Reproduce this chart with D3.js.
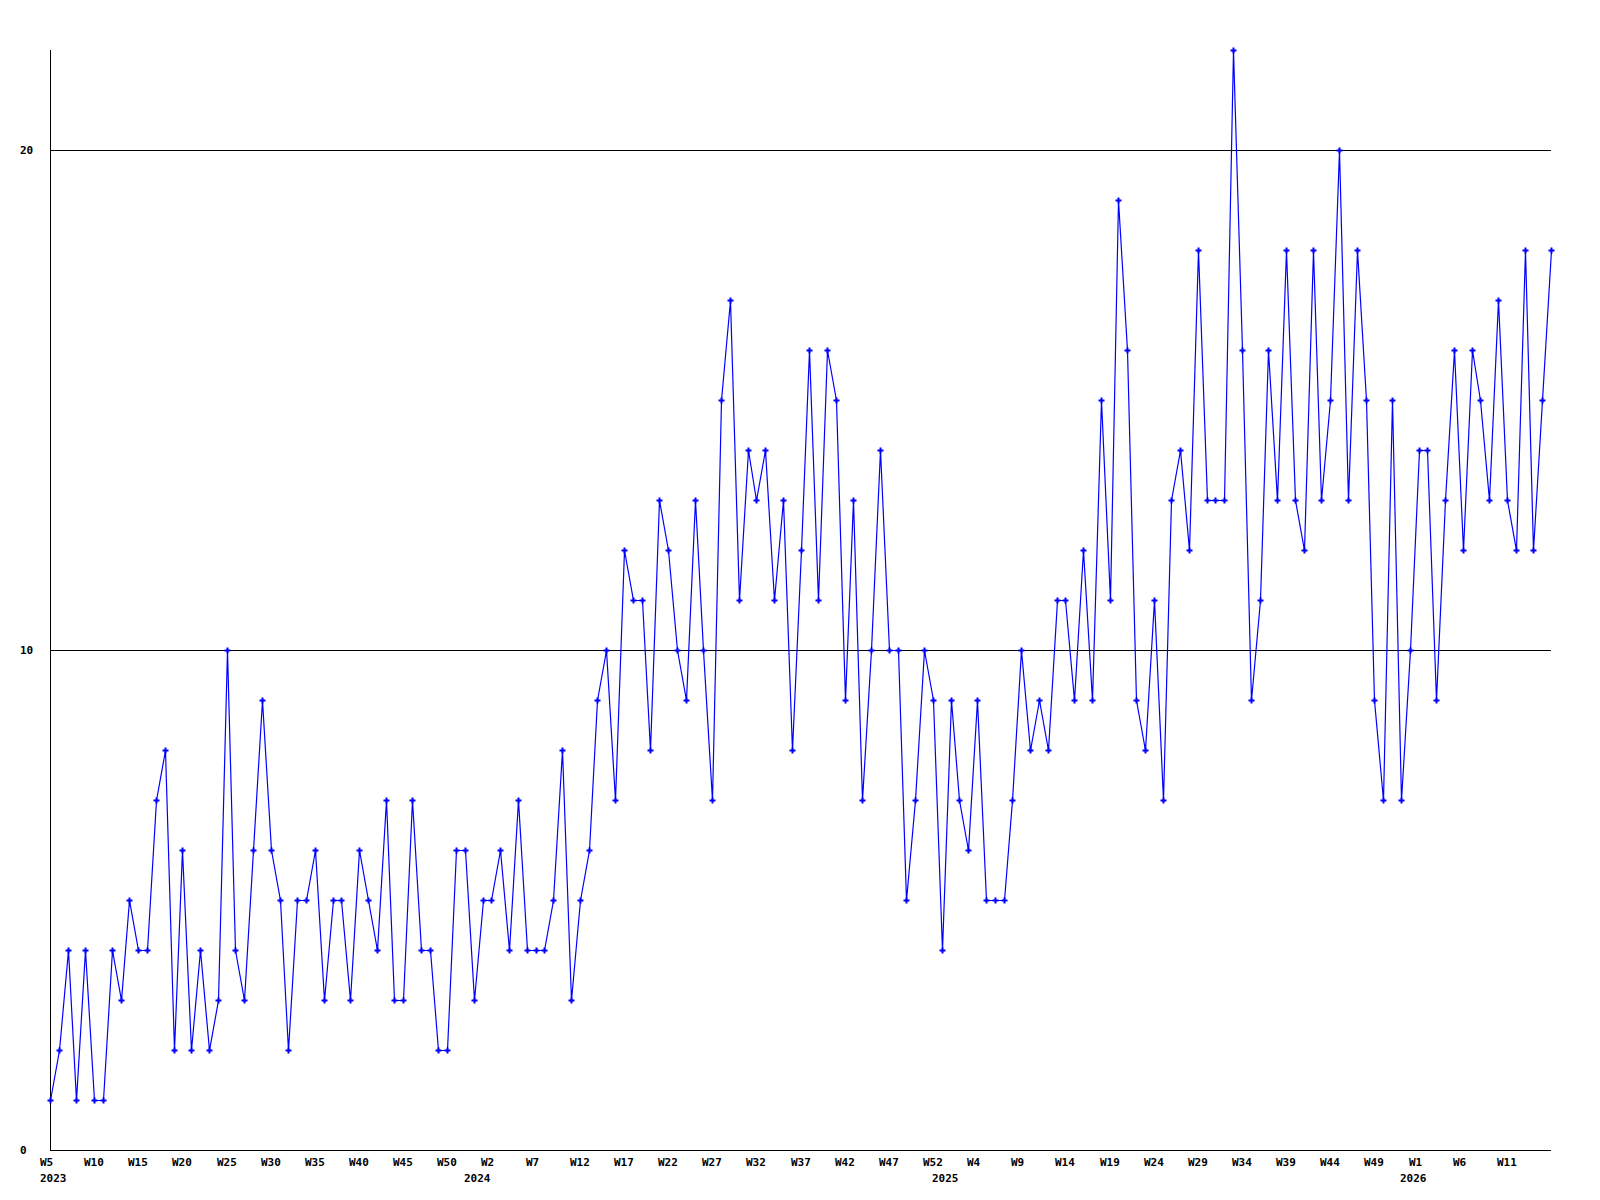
<!DOCTYPE html>
<html>
<head>
<meta charset="utf-8">
<script src="https://cdn.jsdelivr.net/npm/d3@7"></script>
<style>
  html, body { margin: 0; padding: 0; background: #ffffff; }
  svg { display: block; }
  text { font-family: "DejaVu Sans Mono", "Liberation Mono", monospace; font-weight: bold; font-size: 11px; fill: #000; }
</style>
</head>
<body>
<svg id="chart" width="1600" height="1200"></svg>
<script>
// ---- data ----
// Weekly periods: [year, first week, last week]
const yearRanges = [
  [2023, 5, 52],
  [2024, 0, 52],
  [2025, 0, 52],
  [2026, 0, 16]
];

const values = [
  1, 2, 4, 1, 4, 1, 1, 4, 3, 5, 4, 4, 7, 8, 2, 6, 2, 4, 2, 3,
  10, 4, 3, 6, 9, 6, 5, 2, 5, 5, 6, 3, 5, 5, 3, 6, 5, 4, 7, 3,
  3, 7, 4, 4, 2, 2, 6, 6, 3, 5, 5, 6, 4, 7, 4, 4, 4, 5, 8, 3,
  5, 6, 9, 10, 7, 12, 11, 11, 8, 13, 12, 10, 9, 13, 10, 7, 15, 17, 11, 14,
  13, 14, 11, 13, 8, 12, 16, 11, 16, 15, 9, 13, 7, 10, 14, 10, 10, 5, 7, 10,
  9, 4, 9, 7, 6, 9, 5, 5, 5, 7, 10, 8, 9, 8, 11, 11, 9, 12, 9, 15,
  11, 19, 16, 9, 8, 11, 7, 13, 14, 12, 18, 13, 13, 13, 22, 16, 9, 11, 16, 13,
  18, 13, 12, 18, 13, 15, 20, 13, 18, 15, 9, 7, 15, 7, 10, 14, 14, 9, 13, 16,
  12, 16, 15, 13, 17, 13, 12, 18, 12, 15, 18
];

const yTickValues = [0, 10, 20];
const labelEvery = 5;

// categories (one per weekly point)
const categories = [];
yearRanges.forEach(([yr, a, b]) => {
  for (let w = a; w <= b; w++) categories.push({ year: yr, week: w });
});

// ---- drawing ----
const svg = d3.select("#chart");
const W = 1600, H = 1200;
svg.append("rect").attr("width", W).attr("height", H).attr("fill", "#fff");

const x = d3.scaleLinear().domain([0, categories.length - 1]).range([50, 1551]);
const y = d3.scaleLinear().domain([0, 22]).range([1150, 50]);

const px = v => Math.round(v) + 0.5;

// gridlines
yTickValues.filter(v => v > 0).forEach(v => {
  svg.append("line")
    .attr("x1", 50).attr("x2", 1551)
    .attr("y1", px(y(v))).attr("y2", px(y(v)))
    .attr("stroke", "#000").attr("stroke-width", 1)
    .attr("shape-rendering", "crispEdges");
});

// axes lines
svg.append("line")
  .attr("x1", px(x(0))).attr("x2", px(x(0)))
  .attr("y1", y(22)).attr("y2", y(0) + 1)
  .attr("stroke", "#000").attr("shape-rendering", "crispEdges");
svg.append("line")
  .attr("x1", x(0)).attr("x2", 1551)
  .attr("y1", px(y(0))).attr("y2", px(y(0)))
  .attr("stroke", "#000").attr("shape-rendering", "crispEdges");

// y tick labels
yTickValues.forEach(v => {
  svg.append("text")
    .attr("x", 20)
    .attr("y", Math.round(y(v)) + 4)
    .attr("text-anchor", "start")
    .text(String(v));
});

// x tick labels (last point is not labelled)
categories.forEach((c, i) => {
  const tx = Math.round(x(i)) - 10;
  if (i % labelEvery === 0 && i < categories.length - 1) {
    svg.append("text")
      .attr("x", tx)
      .attr("y", 1166)
      .text("W" + c.week);
  }
  if (i === 0 || categories[i - 1].year !== c.year) {
    svg.append("text")
      .attr("x", tx)
      .attr("y", 1182)
      .text(String(c.year));
  }
});

// series line
const line = d3.line()
  .x((d, i) => Math.round(x(i)) + 0.5)
  .y(d => Math.round(y(d)) + 0.5);

svg.append("path")
  .datum(values)
  .attr("d", line)
  .attr("fill", "none")
  .attr("stroke", "#0000ff")
  .attr("stroke-width", 1.2);

// markers
svg.append("g").selectAll("path")
  .data(values)
  .join("path")
  .attr("transform", (d, i) => `translate(${Math.round(x(i)) + 0.5},${Math.round(y(d)) + 0.5})`)
  .attr("d", "M-3,-1H-1V-3H1V-1H3V1H1V3H-1V1H-3Z")
  .attr("fill", "#0000ff");
</script>
</body>
</html>
